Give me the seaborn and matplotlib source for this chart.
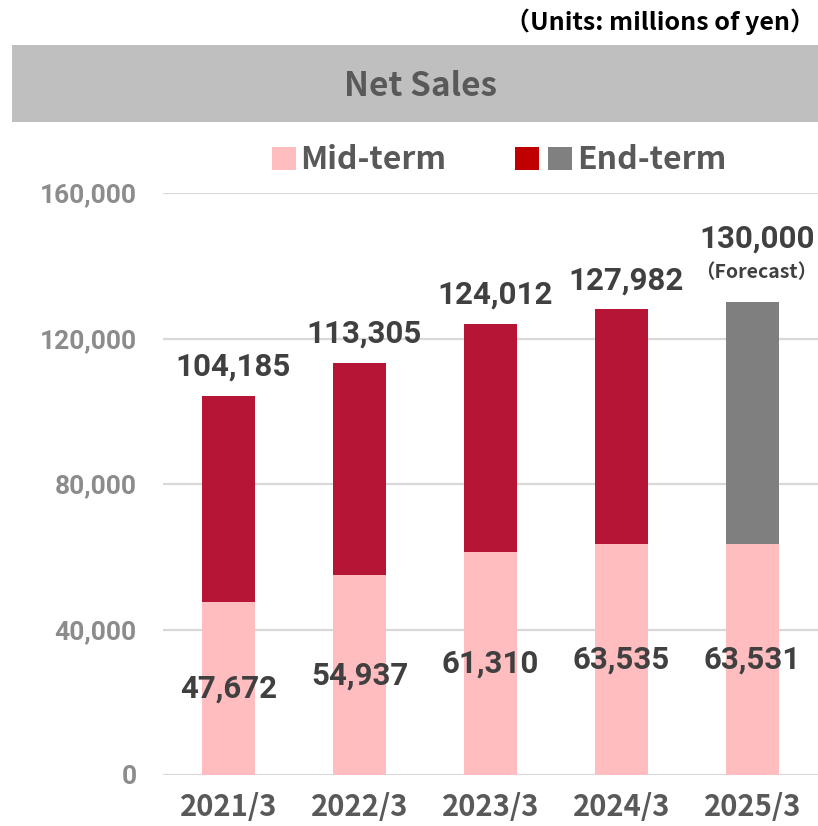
import matplotlib.pyplot as plt
import seaborn as sns
from matplotlib.patches import Rectangle
from matplotlib.ticker import FuncFormatter

# data (millions of yen)
years = ['2021/3', '2022/3', '2023/3', '2024/3', '2025/3']
mid_term = [47672, 54937, 61310, 63535, 63531]
total = [104185, 113305, 124012, 127982, 130000]
is_forecast = [False, False, False, False, True]

pink = '#FFBDBF'
crimson = '#B71535'
grey_bar = '#7F7F7F'
narrow = ['Noto Sans CJK JP', 'DejaVu Sans']
num_font = ['Roboto', 'DejaVu Sans']

sns.set_theme(style='white')
plt.rcParams['font.family'] = num_font

fig = plt.figure(figsize=(8.18, 8.26), dpi=100)
ax = fig.add_axes([163 / 818, 51 / 826, 655 / 818, 582 / 826])

end_colors = [grey_bar if f else crimson for f in is_forecast]
sns.barplot(x=years, y=total, hue=years, palette=end_colors, width=0.41,
            saturation=1, legend=False, ax=ax, zorder=2, linewidth=0)
sns.barplot(x=years, y=mid_term, color=pink, width=0.41,
            saturation=1, ax=ax, zorder=3, linewidth=0)

ax.set_ylim(0, 160000)
ax.set_xlim(-0.5, 4.5)
ax.set_yticks([0, 40000, 80000, 120000, 160000])
ax.yaxis.set_major_formatter(FuncFormatter(lambda v, p: f'{int(v):,}'))
ax.yaxis.grid(True, color='#D9D9D9', lw=1.6)
ax.set_axisbelow(True)
sns.despine(ax=ax, left=True, bottom=True)
ax.tick_params(axis='y', length=0, pad=19, labelsize=19, labelcolor='#8C8C8C')
ax.tick_params(axis='x', length=0, pad=12)
for lab in ax.get_yticklabels():
    lab.set_fontweight('bold')
for lab in ax.get_xticklabels():
    lab.set_fontfamily(narrow)
    lab.set_fontsize(21)
    lab.set_fontweight('bold')
    lab.set_color('#595959')
ax.set_xlabel('')
ax.set_ylabel('')

# value labels
for i, (m, t) in enumerate(zip(mid_term, total)):
    ax.text(i, m / 2, f'{m:,}', ha='center', va='center', fontsize=22.5,
            fontweight='bold', color='#404040', zorder=5)
    if is_forecast[i]:
        ax.annotate('（Forecast）', (i, t), xytext=(3, 21), textcoords='offset points',
                    ha='center', va='center', fontsize=14, fontweight='bold',
                    color='#404040', family=narrow, annotation_clip=False)
        ax.annotate(f'{t:,}', (i, t), xytext=(3, 46), textcoords='offset points',
                    ha='center', va='center', fontsize=22.5, fontweight='bold',
                    color='#404040', annotation_clip=False)
    else:
        ax.annotate(f'{t:,}', (i, t), xytext=(3, 21), textcoords='offset points',
                    ha='center', va='center', fontsize=22.5, fontweight='bold',
                    color='#404040', annotation_clip=False)

# title band
fig.add_artist(Rectangle((12 / 818, 1 - 122 / 826), 1 - 12 / 818, 77 / 826,
                         transform=fig.transFigure, facecolor='#BFBFBF', edgecolor='none'))
fig.text(420 / 818, 1 - 86 / 826, 'Net Sales', ha='center', va='center', fontsize=24,
         fontweight='bold', color='#595959', family=narrow)
fig.text(815 / 818, 1 - 22 / 826, '（Units: millions of yen）', ha='right', va='center',
         fontsize=18, fontweight='bold', color='black', family=narrow)

# legend (manual, to get the split red/grey swatch)
sw = [(272, pink), (515, '#C00000'), (548, '#808080')]
for x0, c in sw:
    fig.add_artist(Rectangle((x0 / 818, 1 - 170 / 826), 24 / 818, 23 / 826,
                             transform=fig.transFigure, facecolor=c, edgecolor='none'))
fig.text(300 / 818, 1 - 160 / 826, 'Mid-term', ha='left', va='center', fontsize=23,
         fontweight='bold', color='#595959', family=narrow)
fig.text(577 / 818, 1 - 160 / 826, 'End-term', ha='left', va='center', fontsize=23,
         fontweight='bold', color='#595959', family=narrow)

fig.savefig('out.png', dpi=100)
